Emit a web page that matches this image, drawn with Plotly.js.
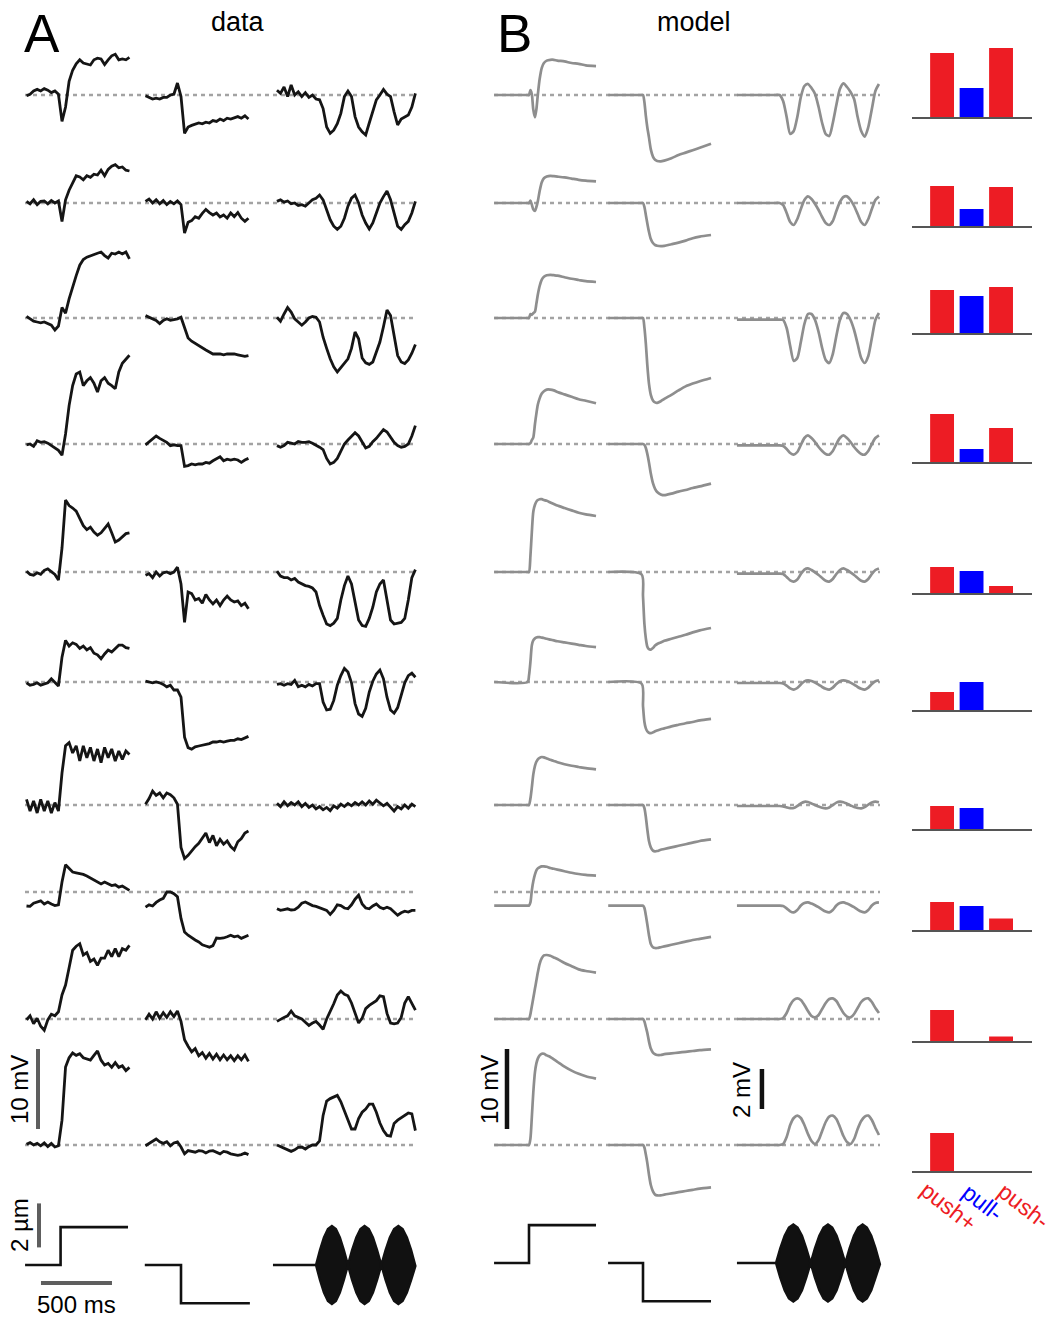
<!DOCTYPE html>
<html>
<head>
<meta charset="utf-8">
<script src="https://cdn.plot.ly/plotly-3.0.1.min.js"></script>
<style>html,body{margin:0;padding:0;background:#fff;}#fig{width:1063px;height:1322px;}</style>
</head>
<body>
<div id="fig"></div>
<script>
// ---------- time grids (ms, relative to stimulus onset) ----------
const tStep = [-250,-225,-200,-175,-150,-125,-100,-75,-50,-25,0,25,50,75,100,125,150,175,200,225,250,275,300,325,350,375,400,425,450,475];
const tSine = [-275,-250,-225,-200,-175,-150,-125,-100,-75,-50,-25,0,25,50,75,100,125,150,175,200,225,250,275,300,325,350,375,400,425,450,475,500,525,550,575,600,625,650,675,700];
const tModUp = [-245,-10,0,10,20,30,42,52,62,75,90,105,125,150,175,200,250,300,350,400,472];
const tModDown = [-245,-10,0,10,20,30,42,55,70,85,100,125,150,200,250,300,350,400,479];
const tModSine = [-275,-25,0,25,50,75,100,125,150,175,200,225,250,275,300,325,350,375,400,425,450,475,500,525,550,575,600,625,650,675,700,725];

// ---------- A: recorded data (mV) ----------
const A1_up = [-0.1,0.1,0.5,0.7,0.5,0.8,0.6,0.3,0.5,0.1,-3.3,-1.5,1.7,3.1,3.9,4.4,4.0,3.9,3.75,4.4,4.6,4.5,3.8,4.4,4.9,5.1,4.4,4.5,4.4,4.7];
const A1_down = [-0.1,-0.3,-0.5,-0.4,-0.5,-0.3,-0.3,0,0.1,1.5,-0.2,-4.8,-4.0,-3.8,-3.6,-3.5,-3.6,-3.4,-3.5,-3.2,-3.3,-3.0,-3.2,-2.9,-3.0,-2.8,-2.7,-2.9,-2.6,-3.0];
const A1_sine = [0.6,0.2,1.0,-0.2,1.25,0,0.4,-0.2,0.3,-0.3,0,-0.5,-0.6,-1.7,-4.0,-4.8,-4.4,-3.6,-2.3,-0.2,0.5,-0.2,-2.7,-4.0,-4.6,-5.0,-3.5,-1.9,-0.6,0,0.7,0.1,-0.2,-2.1,-3.75,-3.0,-2.7,-2.5,-1.5,0.2];
const A2_up = [0.2,-0.1,0.4,-0.2,0.2,0.25,-0.1,0.3,0,0.25,-2.3,0.4,1.6,2.5,3.4,3.25,2.9,3.4,3.2,3.6,3.5,4.1,3.4,4.2,4.6,4.8,4.4,4.5,4.1,4.0];
const A2_down = [0.2,0.5,0,0.4,-0.1,0.3,-0.2,0.2,-0.1,0.25,-0.2,-3.75,-2.4,-2.2,-1.7,-1.9,-1.3,-0.8,-1.2,-1.5,-1.25,-1.75,-1.5,-1.9,-1.25,-1.7,-1.2,-1.9,-2.3,-1.9];
const A2_sine = [0.2,0.4,0.1,0.25,-0.1,0,-0.3,-0.2,-0.4,0,0.4,0.6,1.0,0.4,-0.8,-2.1,-2.9,-3.3,-2.9,-1.9,-0.4,0.6,1.0,0,-1.5,-2.5,-3.25,-2.5,-1.25,0,0.8,1.5,0.4,-1.25,-2.9,-3.3,-2.7,-2.3,-1.25,0.2];
const A3_up = [0.2,-0.1,-0.4,-0.5,-0.6,-0.5,-0.7,-0.9,-1.5,-1.0,1.3,0.6,2.4,4.0,5.3,6.6,7.3,7.6,7.8,8.0,8.1,8.25,7.8,7.5,8.1,8.0,8.25,8.0,8.25,7.4];
const A3_down = [0.3,0.1,-0.1,-0.3,-0.7,-0.3,-0.1,-0.3,-0.2,-0.1,0.1,-1.3,-2.5,-2.9,-3.2,-3.4,-3.7,-4.0,-4.25,-4.5,-4.5,-4.5,-4.6,-4.5,-4.5,-4.5,-4.6,-4.7,-4.8,-4.7];
const A3_sine = [0.1,-0.4,0.5,1.3,0.75,-0.1,-0.5,-0.9,-0.5,0,0.2,0.1,-0.5,-2.4,-3.8,-5.1,-6.1,-6.75,-6.2,-5.7,-5.1,-3.8,-1.75,-2.6,-5.0,-5.6,-5.8,-5.5,-4.25,-3.0,-1.1,1.0,0.3,-2.4,-4.7,-5.5,-5.7,-5.25,-4.4,-3.3];
const A4_up = [-0.1,0,-0.3,0.4,0.2,0.3,0.1,-0.2,-0.5,-0.8,-1.4,1.25,4.8,7.3,8.75,9.0,7.3,7.9,8.3,7.6,6.5,7.9,8.3,7.6,7.3,6.9,9.0,10.1,10.6,11.1];
const A4_down = [-0.1,0.3,0.6,1.0,0.7,0.5,0.2,-0.2,-0.1,-0.2,-0.2,-2.8,-2.7,-2.5,-2.6,-2.5,-2.5,-2.3,-2.4,-2.1,-1.9,-1.6,-2.1,-1.9,-2.0,-1.9,-2.0,-2.3,-2.0,-1.8];
const A4_sine = [-0.2,-0.4,-0.2,0.2,0.1,0,0.3,0.2,0.2,0.3,0.1,-0.1,-0.4,-0.7,-1.8,-2.5,-2.3,-1.8,-0.8,0,0.5,1.0,1.4,1.0,0.3,-0.5,-0.3,0.3,0.7,1.25,1.8,1.5,0.8,0.2,-0.2,-0.4,-0.3,0,1.0,2.3];
const A5_up = [0.1,-0.3,-0.4,-0.1,-0.3,0.2,0.4,0,-0.3,-1.0,3.0,9.0,8.3,8.0,7.6,6.7,5.8,5.3,5.6,5.0,4.6,4.9,5.4,6.0,4.9,3.75,4.0,4.4,4.8,4.9];
const A5_down = [-0.4,-0.2,-0.7,0,-0.5,-0.1,0,-0.2,0,0.6,-1.5,-6.3,-2.5,-2.7,-3.5,-3.3,-3.9,-2.8,-3.5,-4.0,-3.5,-4.2,-3.5,-3.0,-3.5,-3.75,-3.6,-4.2,-3.9,-4.6];
const A5_sine = [0.1,-0.5,-0.7,-0.7,-1.0,-0.8,-1.25,-1.5,-1.7,-1.8,-2.0,-2.5,-4.2,-5.4,-6.5,-6.7,-6.4,-5.8,-3.5,-1.7,-0.5,-1.5,-4.0,-6.0,-6.7,-6.8,-5.8,-4.4,-2.5,-1.5,-1.0,-3.3,-6.0,-6.5,-6.4,-6.3,-5.8,-3.5,-0.7,0.3];
const A6_up = [-0.1,-0.4,-0.3,-0.1,-0.4,-0.2,-0.1,0.4,-0.1,-0.5,3.1,5.2,4.5,4.9,4.7,4.2,4.5,4.0,4.3,3.6,3.4,2.9,3.5,4.0,3.75,4.2,4.6,4.6,4.3,4.2];
const A6_down = [0.1,0,-0.1,0,-0.1,-0.3,-0.6,-0.4,-1.0,-1.0,-1.9,-6.9,-8.2,-8.4,-8.1,-8.0,-7.9,-7.8,-7.7,-7.5,-7.5,-7.4,-7.5,-7.4,-7.3,-7.3,-7.1,-7.2,-7.0,-6.8];
const A6_sine = [-0.3,-0.2,-0.4,-0.2,-0.3,0.2,-0.6,-0.4,-0.6,-0.3,-0.5,-0.2,-0.2,-2.5,-3.5,-3.4,-2.3,-0.4,0.8,1.7,1.25,-0.1,-2.7,-4.0,-4.3,-3.3,-1.25,0.1,1.0,1.5,0.4,-1.9,-3.5,-3.9,-3.2,-1.7,-0.1,0.8,1.1,0.6];
const A7_up = [0.7,-0.75,0.5,-1.0,0.7,-0.75,0.5,-1.0,0.3,-0.75,4.0,7.4,7.8,6.5,7.4,5.5,7.4,5.9,7.2,5.5,7.0,5.3,7.2,5.9,7.0,5.5,6.75,5.7,6.75,6.3];
const A7_down = [0.1,0.8,1.75,1.2,1.5,0.9,1.5,1.3,0.9,0.1,-5.3,-6.7,-6.3,-5.75,-5.2,-4.8,-4.1,-3.5,-4.7,-3.8,-5.1,-4.3,-4.9,-4.5,-5.2,-5.6,-4.6,-4.2,-3.5,-3.25];
const A7_sine = [0.2,-0.2,0.4,-0.1,0.3,0,0.4,-0.2,0.2,-0.3,0,-0.5,-0.2,-0.6,-0.3,-0.7,-0.1,-0.4,0.1,-0.2,0.2,-0.1,0.3,0,0.4,0,0.5,0.1,0.6,0.2,-0.1,0.2,-0.3,-0.75,-0.2,-0.5,0,-0.4,0.1,-0.2];
const A8_up = [-1.75,-1.8,-1.4,-1.25,-1.1,-1.5,-1.25,-1.5,-1.7,-1.6,1.25,3.4,2.9,2.5,2.4,2.3,2.2,2.0,1.75,1.4,1.2,1.0,1.25,1.0,0.8,0.9,0.6,0.75,0.5,0.2];
const A8_down = [-1.9,-1.6,-1.75,-1.3,-1.0,-0.8,0,0,-0.2,-0.6,-3.3,-5.0,-5.4,-5.75,-6.0,-6.25,-6.6,-6.75,-6.9,-6.7,-5.75,-5.8,-5.75,-5.6,-5.4,-5.6,-5.5,-5.8,-5.6,-5.4];
const A8_sine = [-2.1,-2.3,-2.2,-2.1,-2.25,-2.2,-1.9,-1.4,-1.25,-1.5,-1.7,-1.8,-2.0,-2.1,-2.3,-2.8,-2.3,-1.6,-1.7,-2.0,-2.1,-1.6,-0.9,-0.4,-1.5,-2.0,-2.1,-1.75,-1.5,-1.9,-2.1,-1.9,-2.1,-2.5,-2.9,-2.6,-2.4,-2.5,-2.3,-2.3];
const A9_up = [-0.1,0.4,-0.6,0.1,-0.9,-1.4,-0.1,0.6,0.4,0.9,3.0,4.25,6.4,8.6,9.1,9.4,8.0,8.3,7.2,7.5,6.7,7.6,7.6,8.6,7.8,8.8,7.8,8.8,8.6,9.2];
const A9_down = [-0.1,0.6,0,0.9,0.1,0.8,0.2,0.9,0.3,1.0,-0.3,-2.6,-3.4,-4.1,-3.7,-4.6,-4.2,-4.9,-4.3,-5.0,-4.4,-5.1,-4.5,-5.1,-4.6,-5.2,-4.6,-5.1,-4.5,-5.3];
const A9_sine = [-0.3,0,0.2,0.4,1.0,0.4,0.2,0,-0.4,-0.8,-0.5,-0.3,-0.75,-1.3,0,0.9,1.9,3.0,3.5,3.1,2.9,2.0,0.7,-0.5,0.1,1.3,1.7,2.0,2.3,2.9,2.8,0.7,-0.5,-0.6,-0.5,0.2,2.0,2.8,2.0,1.1];
const A10_up = [0.1,0.3,0,0.2,-0.1,0.25,-0.2,0.2,-0.25,-0.1,3.1,9.75,10.9,11.5,11.2,11.4,10.9,10.75,10.6,11.2,11.75,10.6,10.0,10.2,9.7,10.3,9.7,9.9,9.3,9.7];
const A10_down = [-0.1,0.2,0.5,0.75,0.4,0.2,0.4,-0.1,0.25,0.4,-0.25,-1.1,-0.7,-0.8,-0.9,-0.7,-0.75,-1.0,-0.75,-0.7,-0.9,-1.1,-0.8,-0.9,-1.1,-1.2,-1.3,-1.2,-1.0,-1.2];
const A10_sine = [0,-0.2,-0.3,-0.5,-0.8,-0.6,-0.3,-0.25,-0.5,-0.2,0,0,0.5,3.7,5.5,5.8,6.0,6.2,5.4,4.3,3.1,2.0,2.0,3.3,4.1,4.5,5.1,5.1,4.1,2.75,1.8,1.2,1.1,2.7,3.1,3.4,3.7,4.0,3.9,1.8];

// ---------- B: model (mV) ----------
const B1_up = [0,0,0,0.6,0.1,-1.8,-2.8,-1.8,0,2.0,3.4,4.0,4.3,4.4,4.4,4.3,4.2,4.0,3.9,3.7,3.6];
const B2_up = [0,0,0,0.3,-0.2,-0.8,-1.0,-0.5,0.2,1.5,2.6,3.1,3.3,3.4,3.35,3.3,3.2,3.05,2.9,2.8,2.7];
const B3_up = [0,0,0,0.5,0.4,0.6,0.8,1.8,2.9,4.0,4.8,5.15,5.35,5.4,5.35,5.3,5.1,4.9,4.75,4.6,4.5];
const B4_up = [0,0,0,0.1,0.5,0.8,2.5,3.8,4.9,5.7,6.3,6.6,6.8,6.8,6.7,6.5,6.2,5.9,5.6,5.4,5.1];
const B5_up = [0,0,0,2.0,5.0,7.5,8.4,8.8,9.0,9.1,9.1,9.0,8.9,8.7,8.5,8.3,8.0,7.7,7.4,7.2,7.0];
const B6_up = [0,0,0.8,2.5,4.6,5.2,5.45,5.55,5.6,5.6,5.55,5.5,5.4,5.3,5.2,5.1,4.95,4.8,4.65,4.5,4.35];
const B7_up = [0,0,0,0.8,2.2,3.8,4.9,5.4,5.7,5.9,6.0,5.95,5.8,5.65,5.5,5.35,5.1,4.9,4.75,4.6,4.45];
const B8_up = [-1.7,-1.7,-1.7,-1.3,0.2,1.3,2.2,2.7,2.95,3.1,3.2,3.2,3.15,3.0,2.9,2.8,2.6,2.4,2.25,2.15,2.05];
const B9_up = [0,0,0,0.6,1.6,2.6,3.8,4.8,5.8,6.9,7.6,7.95,8.0,7.9,7.7,7.5,7.0,6.6,6.2,6.0,5.8];
const B10_up = [0,0,0,0.8,3.5,6.5,9.1,10.2,10.8,11.2,11.4,11.4,11.2,11.0,10.7,10.4,9.8,9.3,8.9,8.6,8.3];

const B1_down = [0,0,0,-0.9,-2.6,-4.0,-5.3,-6.8,-7.7,-8.1,-8.25,-8.3,-8.2,-7.9,-7.5,-7.2,-6.9,-6.6,-6.1];
const B2_down = [0,0,0,-0.5,-1.5,-2.5,-3.6,-4.5,-5.0,-5.25,-5.35,-5.4,-5.35,-5.15,-4.95,-4.7,-4.4,-4.2,-4.0];
const B3_down = [0,0,0,-1.2,-3.2,-5.8,-8.2,-9.6,-10.3,-10.55,-10.6,-10.4,-10.1,-9.6,-9.05,-8.55,-8.2,-7.9,-7.5];
const B4_down = [0,0,0,-0.1,-0.5,-1.2,-2.3,-3.7,-4.9,-5.6,-6.0,-6.3,-6.4,-6.2,-5.95,-5.75,-5.5,-5.3,-4.95];
const B5_down = [0,-0.3,-3.0,-6.5,-8.3,-9.3,-9.65,-9.7,-9.5,-9.2,-9.0,-8.8,-8.6,-8.35,-8.1,-7.85,-7.55,-7.3,-7.0];
const B6_down = [0,-0.2,-3.0,-5.0,-5.8,-6.15,-6.35,-6.4,-6.3,-6.15,-6.05,-5.9,-5.8,-5.55,-5.35,-5.15,-5.0,-4.8,-4.6];
const B7_down = [0,0,0,-0.4,-1.5,-3.0,-4.5,-5.3,-5.7,-5.8,-5.75,-5.6,-5.5,-5.3,-5.1,-4.9,-4.7,-4.5,-4.3];
const B8_down = [-1.7,-1.7,-1.7,-2.0,-2.9,-4.0,-5.4,-6.5,-6.9,-7.0,-7.0,-6.9,-6.8,-6.6,-6.4,-6.2,-6.0,-5.85,-5.6];
const B9_down = [0,0,0,-0.3,-1.0,-1.7,-2.8,-3.7,-4.2,-4.4,-4.5,-4.5,-4.4,-4.3,-4.2,-4.1,-4.0,-3.9,-3.8];
const B10_down = [0,0,0,-0.3,-1.2,-2.2,-3.7,-5.0,-5.8,-6.2,-6.3,-6.3,-6.2,-6.05,-5.9,-5.75,-5.6,-5.45,-5.3];

const B1_sine = [0,0,0,0,-0.3,-1.1,-1.95,-1.8,-1.1,-0.1,0.45,0.55,0.35,0.05,-0.6,-1.4,-1.95,-2.05,-1.4,-0.5,0.3,0.58,0.4,0.15,-0.2,-1.1,-1.8,-2.08,-1.6,-0.7,0.2,0.55];
const B2_sine = [0,0,0,0,-0.1,-0.5,-0.95,-1.1,-0.8,-0.3,0.15,0.33,0.2,-0.05,-0.35,-0.7,-1.0,-1.1,-0.9,-0.4,0.05,0.3,0.33,0.15,-0.15,-0.55,-0.95,-1.1,-0.8,-0.3,0.15,0.33];
const B3_sine = [-0.08,-0.08,-0.08,-0.08,-0.1,-0.5,-1.4,-2.15,-2.0,-1.2,-0.3,0.2,0.2,-0.1,-0.7,-1.5,-2.1,-2.25,-1.8,-0.9,-0.1,0.25,0.2,-0.1,-0.6,-1.3,-2.0,-2.25,-1.9,-1.0,-0.1,0.25];
const B4_sine = [-0.07,-0.07,-0.07,-0.07,-0.1,-0.25,-0.45,-0.53,-0.4,-0.05,0.3,0.43,0.3,0.1,-0.15,-0.35,-0.5,-0.53,-0.35,0.0,0.3,0.43,0.3,0.1,-0.15,-0.35,-0.5,-0.53,-0.35,0.0,0.3,0.43];
const B5_sine = [-0.08,-0.08,-0.08,-0.08,-0.1,-0.25,-0.42,-0.48,-0.38,-0.1,0.12,0.18,0.1,-0.02,-0.15,-0.3,-0.44,-0.48,-0.35,-0.1,0.1,0.18,0.1,-0.02,-0.15,-0.3,-0.44,-0.48,-0.35,-0.1,0.1,0.18];
const B6_sine = [-0.05,-0.05,-0.05,-0.05,-0.07,-0.18,-0.32,-0.38,-0.3,-0.12,0.03,0.08,0.05,-0.03,-0.13,-0.25,-0.34,-0.38,-0.28,-0.1,0.04,0.08,0.05,-0.03,-0.13,-0.25,-0.34,-0.38,-0.28,-0.1,0.04,0.08];
const B7_sine = [-0.05,-0.05,-0.05,-0.05,-0.07,-0.12,-0.16,-0.15,-0.05,0.08,0.16,0.15,0.08,0.0,-0.08,-0.14,-0.17,-0.12,0.0,0.12,0.17,0.14,0.06,-0.02,-0.1,-0.15,-0.17,-0.1,0.02,0.12,0.17,0.14];
const B8_sine = [-0.68,-0.68,-0.68,-0.68,-0.7,-0.82,-0.97,-1.02,-0.9,-0.68,-0.55,-0.52,-0.58,-0.66,-0.76,-0.88,-0.98,-1.02,-0.9,-0.68,-0.55,-0.52,-0.58,-0.66,-0.76,-0.88,-0.98,-1.02,-0.9,-0.68,-0.55,-0.52];
const B9_sine = [0,0,0,0,0.05,0.3,0.7,0.95,1.03,0.95,0.7,0.4,0.15,0.08,0.2,0.5,0.8,1.0,1.03,0.9,0.6,0.3,0.12,0.08,0.25,0.55,0.85,1.0,1.03,0.85,0.55,0.3];
const B10_sine = [0,0,0,0,0.05,0.4,1.0,1.35,1.47,1.35,1.0,0.55,0.2,0.05,0.25,0.7,1.15,1.42,1.47,1.3,0.9,0.45,0.15,0.05,0.3,0.8,1.2,1.42,1.47,1.25,0.85,0.5];

// ---------- bar charts (push+, pull-, push-) ----------
const barCats = ['push+','pull-','push-'];
const bars1 = [6.5,3.0,7.0];
const bars2 = [4.1,1.8,4.0];
const bars3 = [4.4,3.8,4.7];
const bars4 = [4.9,1.4,3.5];
const bars5 = [2.7,2.3,0.8];
const bars6 = [1.9,2.9,0];
const bars7 = [2.4,2.2,0];
const bars8 = [2.9,2.5,1.25];
const bars9 = [3.2,0.1,0.55];
const bars10 = [3.9,0.05,0.1];

// ---------- stimuli (µm) ----------
const stimUpTA = [-260,-10,-10,465];
const stimDownTA = [-255,0,0,485];
const stimUpTB = [-246,0,0,472];
const stimDownTB = [-246,0,0,479];
const stimUpV = [0,0,1.72,1.72];
const stimDownV = [0,0,-1.74,-1.74];
const envTA = [-303,0,28,56,84,112,140,168,196,225,254,284,313,342,372,401,430,460,490,520,550,580,610,640,670,700];
const envVA = [0,0,0.68,1.25,1.63,1.77,1.63,1.25,0.68,0,0.68,1.25,1.63,1.77,1.63,1.25,0.68,0,0.68,1.25,1.63,1.77,1.63,1.25,0.68,0.05];
const envTB = [-275,0,30,61,91,122,152,183,213,244,274,305,335,366,396,427,457,488,518,549,579,610,640,671,701,732];
const envVB = [0,0,0.67,1.24,1.61,1.75,1.61,1.24,0.67,0,0.67,1.24,1.61,1.75,1.61,1.24,0.67,0,0.67,1.24,1.61,1.75,1.61,1.24,0.67,0.05];

// ---------- layout constants ----------
const W = 1063, H = 1322, PXMS = 0.142;
const SA = 8, SB = 8, SBS = 20, SBAR = 10, SSTIM = 22;
const colOnset = [62, 181, 316, 529, 643, 776];
const rowBase = [95, 203, 318, 444, 572, 682, 805, 892, 1019, 1145];
const barBase = [118, 227, 334, 463, 594, 711, 830, 931, 1042, 1172];
const stimBaseA = 1265, stimBaseB = 1263;
const RED = '#ED1C24', BLUE = '#0000FF';
const FONT = 'Liberation Sans, Arial, Helvetica, sans-serif';

const A_up = [A1_up,A2_up,A3_up,A4_up,A5_up,A6_up,A7_up,A8_up,A9_up,A10_up];
const A_down = [A1_down,A2_down,A3_down,A4_down,A5_down,A6_down,A7_down,A8_down,A9_down,A10_down];
const A_sine = [A1_sine,A2_sine,A3_sine,A4_sine,A5_sine,A6_sine,A7_sine,A8_sine,A9_sine,A10_sine];
const B_up = [B1_up,B2_up,B3_up,B4_up,B5_up,B6_up,B7_up,B8_up,B9_up,B10_up];
const B_down = [B1_down,B2_down,B3_down,B4_down,B5_down,B6_down,B7_down,B8_down,B9_down,B10_down];
const B_sine = [B1_sine,B2_sine,B3_sine,B4_sine,B5_sine,B6_sine,B7_sine,B8_sine,B9_sine,B10_sine];
const BARS = [bars1,bars2,bars3,bars4,bars5,bars6,bars7,bars8,bars9,bars10];

const yid = n => n === 1 ? 'y' : 'y' + n;
const ykey = n => n === 1 ? 'yaxis' : 'yaxis' + n;
const xid = n => n === 1 ? 'x' : 'x' + n;
const xkey = n => n === 1 ? 'xaxis' : 'xaxis' + n;

const layout = {
  width: W, height: H, autosize: false,
  margin: {l: 0, r: 0, t: 0, b: 0, pad: 0},
  paper_bgcolor: '#ffffff', plot_bgcolor: 'rgba(0,0,0,0)',
  showlegend: false, hovermode: false,
  font: {family: FONT, color: '#000'},
  shapes: [], annotations: []
};
const axBase = {visible: false, showgrid: false, zeroline: false, fixedrange: true, autorange: false};
colOnset.forEach((o, i) => {
  layout[xkey(i + 1)] = Object.assign({}, axBase, {domain: [0, 1], range: [-o / PXMS, (W - o) / PXMS], anchor: 'y'});
});
layout[xkey(7)] = Object.assign({}, axBase, {domain: [912 / W, 1032 / W], range: [-1.02, 3.05], anchor: 'y'});
function yAx(base, s) { return Object.assign({}, axBase, {domain: [0, 1], range: [-(H - base) / s, base / s], anchor: 'x'}); }
for (let i = 0; i < 10; i++) {
  layout[ykey(1 + i)] = yAx(rowBase[i], SA);
  layout[ykey(11 + i)] = yAx(rowBase[i], SB);
  layout[ykey(21 + i)] = yAx(rowBase[i], SBS);
  layout[ykey(31 + i)] = yAx(barBase[i], SBAR);
}
layout[ykey(41)] = yAx(stimBaseA, SSTIM);
layout[ykey(42)] = yAx(stimBaseB, SSTIM);

// dotted reference lines
const dotLine = {color: '#a3a3a3', width: 2.4, dash: '4px,4px'};
for (let i = 0; i < 10; i++) {
  layout.shapes.push({type: 'line', layer: 'below', xref: 'paper', yref: yid(1 + i), x0: 25 / W, x1: 417 / W, y0: 0, y1: 0, line: dotLine});
  layout.shapes.push({type: 'line', layer: 'below', xref: 'paper', yref: yid(11 + i), x0: 494 / W, x1: 880 / W, y0: 0, y1: 0, line: dotLine});
}

const traces = [];
const dataLine = {color: '#151515', width: 2.8};
const modelLine = {color: '#8e8e8e', width: 2.7, shape: 'spline', smoothing: 0.7};
for (let i = 0; i < 10; i++) {
  traces.push({type: 'scatter', mode: 'lines', x: tStep, y: A_up[i], xaxis: xid(1), yaxis: yid(1 + i), line: dataLine});
  traces.push({type: 'scatter', mode: 'lines', x: tStep, y: A_down[i], xaxis: xid(2), yaxis: yid(1 + i), line: dataLine});
  traces.push({type: 'scatter', mode: 'lines', x: tSine, y: A_sine[i], xaxis: xid(3), yaxis: yid(1 + i), line: dataLine});
  traces.push({type: 'scatter', mode: 'lines', x: tModUp, y: B_up[i], xaxis: xid(4), yaxis: yid(11 + i), line: modelLine});
  traces.push({type: 'scatter', mode: 'lines', x: tModDown, y: B_down[i], xaxis: xid(5), yaxis: yid(11 + i), line: modelLine});
  traces.push({type: 'scatter', mode: 'lines', x: tModSine, y: B_sine[i], xaxis: xid(6), yaxis: yid(21 + i), line: modelLine});
  traces.push({type: 'bar', x: [0, 1, 2], y: BARS[i], width: 0.81, xaxis: xid(7), yaxis: yid(31 + i),
               marker: {color: [RED, BLUE, RED], line: {width: 0}}});
  traces.push({type: 'scatter', mode: 'lines', x: [-1.02, 3.05], y: [0, 0], xaxis: xid(7), yaxis: yid(31 + i),
               line: {color: '#555555', width: 2.2}});
}

// stimuli
const stimLine = {color: '#111111', width: 2.6};
traces.push({type: 'scatter', mode: 'lines', x: stimUpTA, y: stimUpV, xaxis: xid(1), yaxis: yid(41), line: stimLine});
traces.push({type: 'scatter', mode: 'lines', x: stimDownTA, y: stimDownV, xaxis: xid(2), yaxis: yid(41), line: stimLine});
traces.push({type: 'scatter', mode: 'lines', x: stimUpTB, y: stimUpV, xaxis: xid(4), yaxis: yid(42), line: stimLine});
traces.push({type: 'scatter', mode: 'lines', x: stimDownTB, y: stimDownV, xaxis: xid(5), yaxis: yid(42), line: stimLine});
function envelope(t, v, xa, ya) {
  const xs = t.concat(t.slice().reverse());
  const ys = v.concat(v.slice().reverse().map(a => -a));
  traces.push({type: 'scatter', mode: 'lines', x: xs, y: ys, xaxis: xa, yaxis: ya, fill: 'toself',
               fillcolor: '#111111', line: {color: '#111111', width: 2.4}});
}
envelope(envTA, envVA, xid(3), yid(41));
envelope(envTB, envVB, xid(6), yid(42));

// scale bars (drawn in the axes' own units)
const sbA_mV = {t: -169, v: [2, 12]};
const sbA_um = {t: -162, v: [0.8, 2.8]};
const sbA_ms = {t: [-148, 352], v: -0.82};
const sbB_mV = {t: -155, v: [2, 12]};
const sbB_2mV = {t: -99, v: [1.8, 3.8]};
const grayBar = {color: '#5e5e5e', width: 4};
const blackBar = {color: '#111111', width: 4.5};
traces.push({type: 'scatter', mode: 'lines', x: [sbA_mV.t, sbA_mV.t], y: sbA_mV.v, xaxis: xid(1), yaxis: yid(10), line: grayBar});
traces.push({type: 'scatter', mode: 'lines', x: [sbA_um.t, sbA_um.t], y: sbA_um.v, xaxis: xid(1), yaxis: yid(41), line: grayBar});
traces.push({type: 'scatter', mode: 'lines', x: sbA_ms.t, y: [sbA_ms.v, sbA_ms.v], xaxis: xid(1), yaxis: yid(41), line: grayBar});
traces.push({type: 'scatter', mode: 'lines', x: [sbB_mV.t, sbB_mV.t], y: sbB_mV.v, xaxis: xid(4), yaxis: yid(20), line: blackBar});
traces.push({type: 'scatter', mode: 'lines', x: [sbB_2mV.t, sbB_2mV.t], y: sbB_2mV.v, xaxis: xid(6), yaxis: yid(30), line: blackBar});

// text
function ann(text, px, py, size, opts) {
  layout.annotations.push(Object.assign({text: text, x: px / W, y: 1 - py / H, xref: 'paper', yref: 'paper',
    showarrow: false, xanchor: 'center', yanchor: 'middle', font: {family: FONT, size: size, color: '#000'}}, opts || {}));
}
ann('A', 42, 33, 53);
ann('B', 514, 33, 53);
ann('data', 238, 22, 27);
ann('model', 694, 22, 27);
ann('10 mV', 19, 1090, 24, {textangle: -90});
ann('2 µm', 19, 1225, 24, {textangle: -90});
ann('500 ms', 76, 1304, 24);
ann('10 mV', 489, 1090, 24, {textangle: -90});
ann('2 mV', 741, 1090, 24, {textangle: -90});
ann(barCats[0], 948, 1206, 23, {textangle: 38, font: {family: FONT, size: 23, color: RED}});
ann(barCats[1], 982, 1202, 23, {textangle: 38, font: {family: FONT, size: 23, color: BLUE}});
ann(barCats[2], 1024, 1206, 23, {textangle: 38, font: {family: FONT, size: 23, color: RED}});

Plotly.newPlot('fig', traces, layout, {staticPlot: true, displayModeBar: false});
</script>
</body>
</html>
